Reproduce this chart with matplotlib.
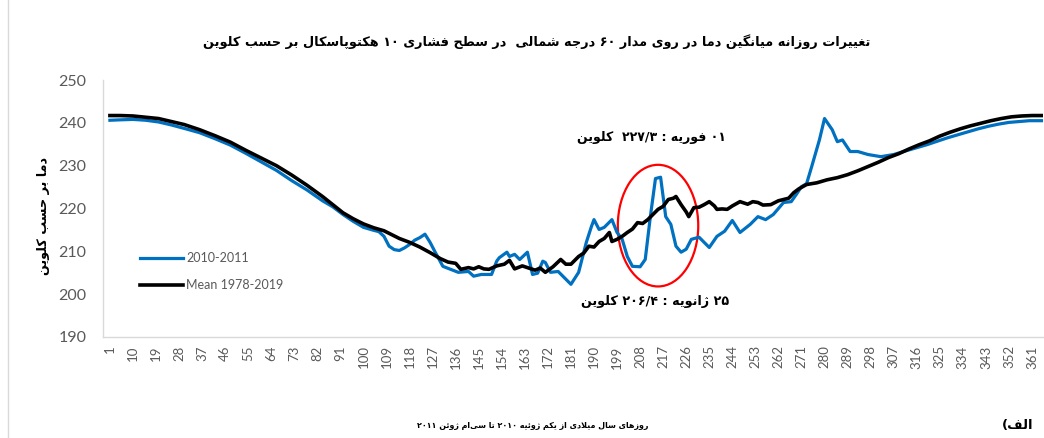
import matplotlib
matplotlib.use("Agg")
import matplotlib.pyplot as plt
from matplotlib.patches import Ellipse
from matplotlib.lines import Line2D

# ---------------- data ----------------
mean_days = [1, 5, 10, 15, 20, 25, 30, 36, 42, 48, 54, 60, 66, 72, 78, 84, 88, 92, 96, 100,
             104, 108, 110, 114, 118, 122, 126, 130, 133, 136, 138, 141, 143, 145, 147, 149,
             152, 155, 157, 159, 162, 164, 167, 169, 171, 174, 177, 179, 181, 184, 186, 188,
             190, 192, 194, 196, 197, 199, 201, 203, 205, 207, 209, 211, 213, 215, 217, 219,
             221, 222, 224, 226, 227, 229, 231, 233, 235, 237, 238, 240, 242, 244, 247, 250,
             252, 254, 256, 259, 262, 264, 266, 268, 270, 273, 277, 281, 285, 289, 293, 297,
             301, 305, 309, 313, 317, 321, 325, 329, 333, 337, 341, 345, 349, 353, 357, 361, 365]
mean_vals = [241.7, 241.7, 241.6, 241.3, 241.0, 240.3, 239.6, 238.4, 237.0, 235.5, 233.6, 231.8,
             230.0, 227.8, 225.4, 222.8, 220.9, 219.0, 217.6, 216.4, 215.5, 214.8, 214.2, 213.0,
             212.1, 211.0, 209.7, 208.3, 207.5, 207.2, 205.8, 206.2, 205.9, 206.4, 205.9, 205.8,
             206.6, 207.0, 207.9, 205.9, 206.6, 206.2, 205.6, 206.1, 205.1, 206.4, 208.1, 207.0,
             207.0, 208.8, 209.6, 211.2, 211.0, 212.3, 213.0, 214.4, 212.3, 212.8, 213.5, 214.4,
             215.2, 216.7, 216.5, 217.4, 218.6, 219.8, 220.5, 222.1, 222.4, 222.8, 220.9, 219.2,
             218.1, 220.2, 220.3, 220.9, 221.6, 220.6, 219.8, 219.9, 219.8, 220.6, 221.6, 221.0,
             221.6, 221.4, 220.8, 220.9, 221.8, 222.1, 222.4, 223.7, 224.6, 225.6, 226.0, 226.7,
             227.2, 227.9, 228.8, 229.8, 230.8, 231.9, 232.8, 233.9, 234.9, 235.8, 236.9, 237.8,
             238.6, 239.3, 239.9, 240.5, 241.0, 241.4, 241.6, 241.7, 241.7]

y1011_days = [1, 5, 10, 15, 20, 25, 30, 36, 42, 48, 54, 60, 66, 72, 78, 84, 88, 92, 96, 100,
              104, 106, 108, 110, 112, 114, 116, 118, 120, 122, 124, 126, 128, 131, 134, 137,
              141, 143, 146, 150, 152, 153, 156, 157, 159, 161, 164, 166, 168, 170, 171, 173,
              176, 179, 181, 184, 187, 189, 190, 192, 194, 197, 199, 201, 203, 205, 208, 210,
              212, 214, 216, 218, 220, 222, 224, 226, 228, 231, 235, 238, 241, 244, 247, 251,
              254, 257, 260, 264, 267, 269, 271, 273, 275, 278, 280, 283, 285, 287, 290, 293,
              297, 302, 307, 312, 316, 320, 324, 328, 332, 336, 340, 344, 348, 352, 356, 360, 365]
y1011_vals = [240.6, 240.7, 240.8, 240.6, 240.2, 239.5, 238.7, 237.7, 236.3, 234.8, 232.9, 230.9,
              228.9, 226.5, 224.3, 221.8, 220.4, 218.6, 217.0, 215.6, 214.9, 214.6, 213.5, 211.2,
              210.4, 210.2, 210.8, 211.6, 212.6, 213.2, 214.0, 212.1, 209.8, 206.5, 205.8, 205.1,
              205.3, 204.2, 204.6, 204.6, 207.7, 208.5, 209.8, 208.8, 209.3, 208.1, 209.8, 204.6,
              204.9, 207.7, 207.4, 205.1, 205.3, 203.5, 202.3, 205.1, 212.1, 215.8, 217.4, 215.1,
              215.6, 217.4, 214.4, 212.8, 208.8, 206.5, 206.4, 208.1, 218.1, 227.0, 227.3, 218.1,
              216.3, 211.2, 209.8, 210.5, 212.8, 213.3, 210.9, 213.5, 214.7, 217.2, 214.4, 216.3,
              218.1, 217.4, 218.6, 221.4, 221.6, 223.3, 225.1, 225.8, 229.8, 236.0, 241.0, 238.4,
              235.6, 236.0, 233.3, 233.3, 232.6, 232.1, 232.6, 233.5, 234.2, 234.9, 235.7, 236.5,
              237.2, 237.9, 238.6, 239.2, 239.7, 240.1, 240.3, 240.5, 240.5]

x_ticks = list(range(1, 362, 9))
y_ticks = [190, 200, 210, 220, 230, 240, 250]
series_labels = ["2010-2011", "Mean 1978-2019"]

title_txt = "تغییرات روزانه میانگین دما در روی مدار ۶۰ درجه شمالی  در سطح فشاری ۱۰ هکتوپاسکال بر حسب کلوین"
ylabel_txt = "دما بر حسب کلوین"
xlabel_txt = "روزهای سال میلادی از یکم ژوئیه ۲۰۱۰ تا سی\u200cام ژوئن ۲۰۱۱"
panel_txt = "الف)"
note_max = "۰۱ فوریه : ۲۲۷/۳  کلوین"
note_min = "۲۵ ژانویه : ۲۰۶/۴ کلوین"

# ---------------- simple Arabic-script shaping (matplotlib has no shaper) ----------------
FORMS = {
    '\u0627': ('\uFE8D', '\uFE8E', None, None),
    '\u0628': ('\uFE8F', '\uFE90', '\uFE91', '\uFE92'),
    '\u067E': ('\uFB56', '\uFB57', '\uFB58', '\uFB59'),
    '\u062A': ('\uFE95', '\uFE96', '\uFE97', '\uFE98'),
    '\u062C': ('\uFE9D', '\uFE9E', '\uFE9F', '\uFEA0'),
    '\u062D': ('\uFEA1', '\uFEA2', '\uFEA3', '\uFEA4'),
    '\u062F': ('\uFEA9', '\uFEAA', None, None),
    '\u0631': ('\uFEAD', '\uFEAE', None, None),
    '\u0632': ('\uFEAF', '\uFEB0', None, None),
    '\u0698': ('\uFB8A', '\uFB8B', None, None),
    '\u0633': ('\uFEB1', '\uFEB2', '\uFEB3', '\uFEB4'),
    '\u0634': ('\uFEB5', '\uFEB6', '\uFEB7', '\uFEB8'),
    '\u0637': ('\uFEC1', '\uFEC2', '\uFEC3', '\uFEC4'),
    '\u063A': ('\uFECD', '\uFECE', '\uFECF', '\uFED0'),
    '\u0641': ('\uFED1', '\uFED2', '\uFED3', '\uFED4'),
    '\u06A9': ('\uFB8E', '\uFB8F', '\uFB90', '\uFB91'),
    '\u06AF': ('\uFB92', '\uFB93', '\uFB94', '\uFB95'),
    '\u0644': ('\uFEDD', '\uFEDE', '\uFEDF', '\uFEE0'),
    '\u0645': ('\uFEE1', '\uFEE2', '\uFEE3', '\uFEE4'),
    '\u0646': ('\uFEE5', '\uFEE6', '\uFEE7', '\uFEE8'),
    '\u0648': ('\uFEED', '\uFEEE', None, None),
    '\u0647': ('\uFEE9', '\uFEEA', '\uFEEB', '\uFEEC'),
    '\u06CC': ('\uFBFC', '\uFBFD', '\uFBFE', '\uFBFF'),
    '\u0626': ('\uFE89', '\uFE8A', '\uFE8B', '\uFE8C'),
}
DIGITS = set('0123456789۰۱۲۳۴۵۶۷۸۹')
MIRROR = {'(': ')', ')': '('}


def _joins_next(c):
    return c in FORMS and FORMS[c][2] is not None


def shape(s):
    out = []
    n = len(s)
    i = 0
    while i < n:
        c = s[i]
        if c not in FORMS:
            if c != '\u200c':
                out.append(c)
            i += 1
            continue
        prev = s[i - 1] if i > 0 else None
        pj = prev is not None and _joins_next(prev)
        if c == '\u0644' and i + 1 < n and s[i + 1] == '\u0627':
            out.append('\uFEFC' if pj else '\uFEFB')
            i += 2
            continue
        nxt = s[i + 1] if i + 1 < n else None
        nj = nxt is not None and nxt in FORMS and _joins_next(c)
        iso, fin, ini, med = FORMS[c]
        if pj and nj:
            g = med
        elif pj:
            g = fin
        elif nj:
            g = ini
        else:
            g = iso
        out.append(g)
        i += 1
    return out


def rtl(s):
    g = shape(s)
    units = []
    i = 0
    while i < len(g):
        if g[i] in DIGITS:
            j = i
            while j < len(g) and (g[j] in DIGITS or (g[j] in '/.' and j + 1 < len(g) and g[j + 1] in DIGITS)):
                j += 1
            units.append(''.join(g[i:j]))
            i = j
        else:
            units.append(MIRROR.get(g[i], g[i]))
            i += 1
    return ''.join(reversed(units))


# ---------------- figure ----------------
W, H = 1044, 438
fig = plt.figure(figsize=(W / 100, H / 100), dpi=100)
fig.patch.set_facecolor('white')

ax = fig.add_axes([103 / W, 1 - 337 / H, 940 / W, 257 / H])
ax.plot(y1011_days, y1011_vals, color='#0070C0', lw=2.3, label=series_labels[0], solid_joinstyle='round')
ax.plot(mean_days, mean_vals, color='black', lw=2.6, label=series_labels[1], solid_joinstyle='round')

ax.set_xlim(-1.7, 365.3)
ax.set_ylim(190, 250)
ax.set_yticks(y_ticks)
ax.set_xticks(x_ticks)
ax.set_xticklabels([str(t) for t in x_ticks], rotation=90, fontsize=9.5, color='#595959',
                   family='Lato')
ax.set_yticklabels([str(t) for t in y_ticks], fontsize=11.5, color='#595959', family='Lato')
ax.tick_params(axis='both', length=0)
ax.tick_params(axis='y', pad=12)
ax.tick_params(axis='x', pad=6)
for s in ['top', 'right']:
    ax.spines[s].set_visible(False)
for s in ['left', 'bottom']:
    ax.spines[s].set_color('#D9D9D9')
    ax.spines[s].set_linewidth(1.0)

leg = ax.legend(loc='upper left', bbox_to_anchor=(32 / 940, (337 - 247) / 257), frameon=False,
                prop={'family': 'Lato', 'size': 9}, handlelength=3.4, handletextpad=0.3,
                labelspacing=1.2, borderaxespad=0)
for t in leg.get_texts():
    t.set_color('#595959')

# red ellipse around the peak
ax.add_patch(Ellipse((215.0, 216.0), 31.4, 28.4, fill=False, edgecolor='#FF0000', lw=1.6))

# annotations
ax.text(651, H - 137, rtl(note_max), transform=None, ha='center', va='center',
        fontsize=9, fontweight='bold', family='DejaVu Sans')
ax.text(655, H - 301, rtl(note_min), transform=None, ha='center', va='center',
        fontsize=9.2, fontweight='bold', family='DejaVu Sans')

fig.text(537 / W, 1 - 42 / H, rtl(title_txt), ha='center', va='center', fontsize=9.3,
         fontweight='bold', family='DejaVu Sans')
fig.text(43 / W, 1 - 216 / H, rtl(ylabel_txt), ha='center', va='center', rotation=90,
         fontsize=9.2, fontweight='bold', family='DejaVu Sans')
fig.text(533 / W, 1 - 425 / H, rtl(xlabel_txt), ha='center', va='center', fontsize=5.8,
         fontweight='bold', family='DejaVu Sans')
fig.text(1018 / W, 1 - 425 / H, rtl(panel_txt), ha='center', va='center', fontsize=9.5,
         fontweight='bold', family='DejaVu Sans')

# chart-area border on the left
fig.add_artist(Line2D([7.5 / W, 7.5 / W], [0, 1], transform=fig.transFigure, color='#D9D9D9', lw=1))

fig.savefig('out.png', dpi=100)
